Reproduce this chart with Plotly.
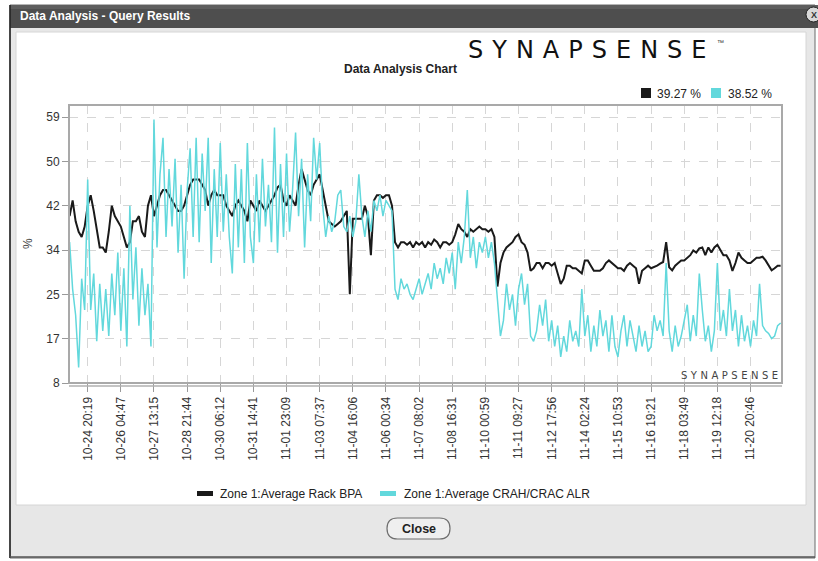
import pandas as pd
import plotly.graph_objects as go

# ---------------- data ----------------
TICK_LABELS = ["10-24 20:19", "10-26 04:47", "10-27 13:15", "10-28 21:44", "10-30 06:12",
               "10-31 14:41", "11-01 23:09", "11-03 07:37", "11-04 16:06", "11-06 00:34",
               "11-07 08:02", "11-08 16:31", "11-10 00:59", "11-11 09:27", "11-12 17:56",
               "11-14 02:24", "11-15 10:53", "11-16 19:21", "11-18 03:49", "11-19 12:18",
               "11-20 20:46"]
Y_TICK_VALUES = [8, 16.5, 25, 33.5, 42, 50.5, 59]
Y_TICK_LABELS = ["8", "17", "25", "34", "42", "50", "59"]

SERIES_NAMES = ["Zone 1:Average Rack BPA", "Zone 1:Average CRAH/CRAC ALR"]
SERIES_SUMMARY = ["39.27 %", "38.52 %"]

rack_bpa = [
    40, 43, 39, 37, 36, 38,
    42, 44, 41, 37, 34, 34, 33, 37, 42, 40, 39,
    38, 36, 34, 35, 39, 39, 40, 37, 36, 42, 44,
    40, 42, 44, 45, 45, 44, 43, 42, 41, 41, 42,
    44, 46, 47, 47, 47, 46, 45, 42, 44, 45, 44,
    44, 44, 42, 41, 40, 42, 43, 42, 41, 39, 43,
    42, 41, 43, 42, 41, 42, 43, 44, 45.5, 46, 43,
    42, 44, 43, 42, 46, 49, 47, 45, 44, 46, 47,
    48, 45, 42, 39, 38.5, 38, 38.5, 39, 40, 41, 25,
    39.5, 39.5, 39.5, 39.5, 42, 40, 32.5, 43, 44, 44, 43.5,
    44, 44, 42, 35, 34, 35, 35, 34.5, 35, 34, 35,
    34.5, 35, 34, 35, 34.5, 35.5, 35, 34, 35, 35, 34.5,
    35, 36.5, 38.5, 37.5, 37, 36, 37.5, 37, 37.5, 38, 37.5,
    37.5, 37, 37.5, 36, 26.5, 31, 33, 34, 34.5, 35, 36,
    36.5, 35, 34.5, 33, 29.5, 30, 31, 31, 30, 31, 31,
    30.5, 31, 29, 27, 28, 30.5, 30.5, 30, 30, 29.5, 29,
    31.5, 31.5, 30.5, 29.5, 29.5, 29.5, 30, 31, 31.5, 31, 30.5,
    30, 30, 29.5, 30.5, 31, 30.5, 30, 27, 29.5, 30, 30.5,
    30, 30.2, 30.5, 30.9, 31.2, 35, 30.2, 29.6, 30.5, 31, 31.5,
    31.5, 32, 32.5, 33.4, 33, 33.8, 34, 32.5, 34, 33, 34,
    34.5, 33.5, 32.5, 32.5, 31.5, 29.5, 31, 33, 32, 31.5, 31,
    31, 31.5, 32, 32, 32.2, 31.5, 30.5, 29.6, 30, 30.5, 30.5,
]

crac_alr = [
    35, 26, 21, 11, 28, 22,
    47, 22, 29, 16, 27, 18, 26, 17, 29, 21, 33,
    18, 30, 15, 42, 24, 34, 19, 30, 21, 27, 15,
    58.5, 34, 48, 55, 36, 49, 38, 51, 33, 46, 28,
    45, 53, 36, 55, 35, 52, 41, 55, 31, 49, 36,
    54, 37, 48, 36, 29, 50, 34, 49, 31, 54, 36,
    31, 48, 35, 51, 38, 46, 35, 57, 33, 50, 36,
    52, 37, 45, 56, 40, 51, 34, 48, 39, 55, 47,
    54, 42, 36, 40, 37, 39, 44, 45, 38, 37, 40,
    36, 39, 48, 40, 36, 41, 37, 43, 41, 44, 40,
    43, 42, 41, 26, 24, 28, 26, 27, 25, 24, 26,
    28, 25, 27, 29, 26, 31, 28, 30, 27, 32, 29,
    33, 26, 35, 31, 36, 45, 32, 36, 30, 35, 33,
    36, 32, 35, 31, 24, 17, 20, 27, 22, 25, 19,
    26, 29, 23, 27, 17, 16, 18, 23, 19, 24, 16,
    20, 15, 19, 13, 17, 14, 20, 16, 18, 15, 26,
    17, 21, 14, 19, 15, 22, 17, 20, 14, 21, 15,
    13, 18, 21, 15, 20, 17, 14, 19, 15, 18, 14,
    15, 21, 18, 20, 17, 31, 18, 14, 19, 15, 17,
    20, 23, 16, 21, 17, 29, 22, 16, 19, 14, 18,
    31, 18, 22, 17, 26, 18, 22, 15, 21, 16, 19,
    15, 20, 17, 27, 19, 18, 17.5, 16.5, 17, 19, 19.5,
]

# time axis: samples every 1/11 of a label interval
T0 = pd.Timestamp("2013-10-24 20:19")
TICK_STEP = pd.Timedelta(hours=32, minutes=28, seconds=21)
SAMPLE_STEP = TICK_STEP / 11
times = [T0 + (k - 6) * SAMPLE_STEP for k in range(len(rack_bpa))]
tick_times = [T0 + j * TICK_STEP for j in range(len(TICK_LABELS))]
x_range = [str(T0 - 0.564 * TICK_STEP), str(T0 + 20.95 * TICK_STEP)]

# ---------------- geometry helpers ----------------
W, H = 818, 561
ML, MR, MT, MB = 69, 36, 105, 178
PW = W - ML - MR
PH = H - MT - MB


def px(x):
    return (x - ML) / PW


def py(y):
    return (H - MB - y) / PH


BLACK = "#1a1a1a"
CYAN = "#62d8dc"
FONT = "Liberation Sans, Arial, sans-serif"

fig = go.Figure()
fig.add_trace(go.Scatter(x=times, y=rack_bpa, mode="lines", name=SERIES_NAMES[0],
                         line=dict(color=BLACK, width=2)))
fig.add_trace(go.Scatter(x=times, y=crac_alr, mode="lines", name=SERIES_NAMES[1],
                         line=dict(color=CYAN, width=1.5)))

shapes = []


def rect(x0, y0, x1, y1, fill, line="rgba(0,0,0,0)", lw=0, layer="below"):
    shapes.append(dict(type="rect", xref="paper", yref="paper",
                       x0=px(x0), x1=px(x1), y0=py(y1), y1=py(y0),
                       fillcolor=fill, line=dict(color=line, width=lw), layer=layer))


def hline(x0, x1, y, color, lw, layer="below"):
    shapes.append(dict(type="line", xref="paper", yref="paper",
                       x0=px(x0), x1=px(x1), y0=py(y), y1=py(y),
                       line=dict(color=color, width=lw), layer=layer))


def vline(x, y0, y1, color, lw, layer="below"):
    shapes.append(dict(type="line", xref="paper", yref="paper",
                       x0=px(x), x1=px(x), y0=py(y0), y1=py(y1),
                       line=dict(color=color, width=lw), layer=layer))


# dialog window
rect(10, 5, 815, 558, "#e7e7e7", "#6a6a6a", 1)
rect(10, 5, 818, 28, "#4e4e4e")
rect(10, 5, 818, 9, "#5e5e5e")
rect(16, 32, 806, 505, "#ffffff", "#d6d6d6", 1)
vline(10, 5, 558, "#222222", 1.5)
hline(10, 815, 557, "#555555", 1.5)
# close circle in title bar
shapes.append(dict(type="circle", xref="paper", yref="paper",
                   x0=px(806), x1=px(821), y0=py(22), y1=py(7),
                   fillcolor="#d8d8d8", line=dict(color="#222", width=1), layer="below"))

# plot frame and x axis line
rect(69, 105, 782, 383, "rgba(0,0,0,0)", "#a9a9a9", 2, layer="above")
hline(69, 782, 386, "#b0b0b0", 1.5, layer="above")

# summary legend squares
rect(641, 88, 651, 98, BLACK)
rect(711, 88, 721, 98, CYAN)
# bottom legend bars
rect(197, 491, 213, 496, BLACK)
rect(380, 491, 396, 496, CYAN)

# close button (pill)
bx0, bx1, by0, by1 = 387, 450, 518, 539
r = 10.5
ym = (by0 + by1) / 2
path = (f"M {px(bx0 + r)} {py(by0)} L {px(bx1 - r)} {py(by0)} "
        f"Q {px(bx1)} {py(by0)} {px(bx1)} {py(ym)} "
        f"Q {px(bx1)} {py(by1)} {px(bx1 - r)} {py(by1)} "
        f"L {px(bx0 + r)} {py(by1)} "
        f"Q {px(bx0)} {py(by1)} {px(bx0)} {py(ym)} "
        f"Q {px(bx0)} {py(by0)} {px(bx0 + r)} {py(by0)} Z")
shapes.append(dict(type="path", xref="paper", yref="paper", path=path,
                   fillcolor="#efefef", line=dict(color="#6f6f6f", width=1.2), layer="below"))

annotations = []


def text(x, y, s, size=12, color="#222", anchor="left", family=FONT, angle=0, yanchor="middle"):
    annotations.append(dict(xref="paper", yref="paper", x=px(x), y=py(y), text=s,
                            showarrow=False, xanchor=anchor, yanchor=yanchor,
                            textangle=angle,
                            font=dict(family=family, size=size, color=color)))


text(18, 16, "<b>Data Analysis - Query Results</b>", 12, "#ffffff")
text(813.5, 14.5, "<b>X</b>", 9, "#333", anchor="center")
text(466, 50, '<span style="letter-spacing:9px">SYNAPSENS</span>E',
     24, "#111", family="DejaVu Sans, sans-serif")
text(715, 42, "™", 7, "#333")
text(400, 69, "<b>Data Analysis Chart</b>", 12, "#222", anchor="center")
text(655, 93.5, SERIES_SUMMARY[0], 12, "#222")
text(726, 93.5, SERIES_SUMMARY[1], 12, "#222")
text(28, 244, "%", 12, "#444", anchor="center", angle=-90)
text(679, 375, '<span style="letter-spacing:3.5px">SYNAPSENS</span>E', 10, "#444",
     family="DejaVu Sans, sans-serif")
text(218, 493.5, SERIES_NAMES[0], 12, "#222")
text(402, 493.5, SERIES_NAMES[1], 12, "#222")
text(418.5, 528.5, "<b>Close</b>", 12.5, "#222", anchor="center")

fig.update_layout(
    width=W, height=H,
    margin=dict(l=ML, r=MR, t=MT, b=MB, autoexpand=False),
    paper_bgcolor="#ffffff", plot_bgcolor="#ffffff",
    showlegend=False,
    shapes=shapes, annotations=annotations,
    xaxis=dict(type="date", range=x_range, tickmode="array", tickvals=tick_times,
               ticktext=TICK_LABELS, tickangle=-90, showgrid=True, gridcolor="#d6d6d6",
               griddash="dash", gridwidth=1, ticks="outside", ticklen=8, tickwidth=1,
               tickcolor="#9a9a9a", showline=False, zeroline=False,
               tickfont=dict(family=FONT, size=12, color="#333")),
    yaxis=dict(range=[8, 61.3], tickmode="array", tickvals=Y_TICK_VALUES,
               ticktext=Y_TICK_LABELS, showgrid=True, gridcolor="#d6d6d6",
               griddash="dash", gridwidth=1, ticks="outside", ticklen=6, tickwidth=1,
               tickcolor="#9a9a9a", showline=False, zeroline=False,
               tickfont=dict(family=FONT, size=12, color="#333")),
)

fig.write_html("out.html", config={"displayModeBar": False},
               post_script="document.body.style.margin='0';document.body.style.overflow='hidden';")
